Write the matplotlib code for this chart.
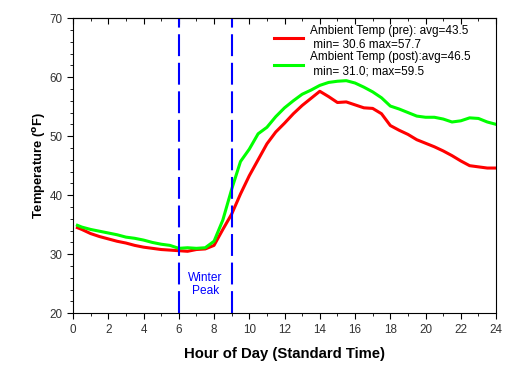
import numpy as np
import matplotlib
matplotlib.use('Agg')
import matplotlib.pyplot as plt

plt.rcParams['font.family'] = ['Liberation Sans', 'DejaVu Sans']

# Hour of day (shared by both series)
hour = [0.25, 0.5, 1.0, 1.5, 2.0, 2.5, 3.0, 3.5, 4.0, 4.5, 5.0, 5.5, 6.0, 6.5,
        7.0, 7.5, 8.0, 8.5, 9.0, 9.5, 10.0, 10.5, 11.0, 11.5, 12.0, 12.5, 13.0,
        13.5, 14.0, 14.5, 15.0, 15.5, 16.0, 16.5, 17.0, 17.5, 18.0, 18.5, 19.0,
        19.5, 20.0, 20.5, 21.0, 21.5, 22.0, 22.5, 23.0, 23.5, 24.0]

# Ambient temperature before retrofit (pre)
temp_pre = [34.5, 34.2, 33.5, 33.0, 32.6, 32.2, 31.9, 31.5, 31.2, 31.0, 30.8,
            30.7, 30.6, 30.5, 30.8, 30.9, 31.5, 34.2, 36.8, 40.2, 43.3, 46.0,
            48.7, 50.7, 52.2, 53.8, 55.2, 56.4, 57.6, 56.7, 55.7, 55.8, 55.3,
            54.8, 54.7, 53.8, 51.8, 51.0, 50.3, 49.4, 48.8, 48.2, 47.5, 46.7,
            45.8, 45.0, 44.8, 44.6, 44.6]

# Ambient temperature after retrofit (post)
temp_post = [34.9, 34.6, 34.2, 33.9, 33.6, 33.3, 32.9, 32.7, 32.4, 32.0, 31.7,
             31.5, 31.0, 31.1, 31.0, 31.1, 32.2, 35.8, 41.0, 45.7, 47.8, 50.4,
             51.5, 53.3, 54.8, 56.0, 57.1, 57.8, 58.6, 59.1, 59.3, 59.4, 59.0,
             58.3, 57.5, 56.5, 55.1, 54.6, 54.0, 53.4, 53.2, 53.2, 52.9, 52.4,
             52.6, 53.1, 53.0, 52.4, 52.0]

peak_hours = [6, 9]

fig = plt.figure(figsize=(5.2, 3.69), dpi=100)
ax = fig.add_axes([0.1404, 0.151, 0.8136, 0.8])

ax.plot(hour, temp_pre, color='#ff0000', lw=2.2,
        label='Ambient Temp (pre): avg=43.5\n min= 30.6 max=57.7')
ax.plot(hour, temp_post, color='#00ff00', lw=2.2,
        label='Ambient Temp (post):avg=46.5\n min= 31.0; max=59.5')

for h in peak_hours:
    ax.axvline(h, color='#0000ff', lw=1.5, dashes=(10.5, 3.2))
ax.text(7.5, 24.9, 'Winter\nPeak', color='#0000ff', ha='center', va='center',
        fontsize=8.6, linespacing=1.1)

ax.set_xlim(0, 24)
ax.set_ylim(20, 70)
ax.set_xticks(np.arange(0, 25, 2))
ax.set_xticks(np.arange(0, 25, 1), minor=True)
ax.set_yticks(np.arange(20, 71, 10))
ax.set_yticks(np.arange(20, 71, 2), minor=True)
ax.tick_params(which='both', direction='out', labelsize=8.4, labelcolor='#333333')
ax.tick_params(which='major', length=4)
ax.tick_params(which='minor', length=2.5)

top = ax.secondary_xaxis('top')
top.set_xticks(np.arange(0, 25, 2))
top.set_xticks(np.arange(0, 25, 1), minor=True)
top.tick_params(which='both', direction='in', labeltop=False)
top.tick_params(which='major', length=4)
top.tick_params(which='minor', length=2.5)

ax.set_xlabel('Hour of Day (Standard Time)', fontsize=10.7, fontweight='bold',
              labelpad=8)
ax.set_ylabel(r'Temperature ($\mathbf{^o}$F)', fontsize=9.4, fontweight='bold',
              labelpad=1)

ax.legend(loc='upper left', bbox_to_anchor=(0.47, 0.985), frameon=False,
          fontsize=8.5, handlelength=2.4, labelspacing=0.05, borderaxespad=0,
          borderpad=0.2, handletextpad=0.6)

plt.savefig('out.png', dpi=100)
